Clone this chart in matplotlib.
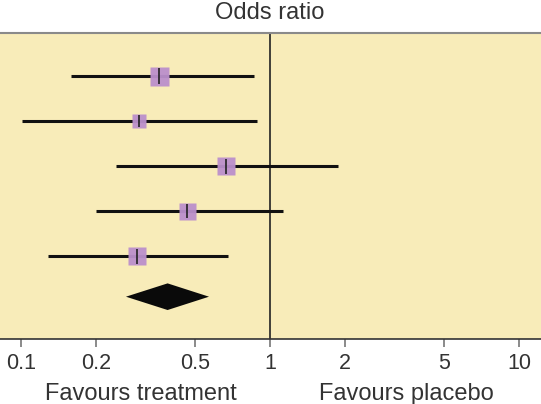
import numpy as np
import matplotlib
matplotlib.use('Agg')
import matplotlib.pyplot as plt

# study estimates (odds ratios), top to bottom
odds = [0.360, 0.299, 0.664, 0.463, 0.292]
ci_low = [0.159, 0.101, 0.240, 0.200, 0.129]
ci_high = [0.862, 0.884, 1.88, 1.13, 0.676]
box_px = [19, 14, 18, 17, 18]  # box size ~ study weight

# pooled estimate
pooled = 0.388
pooled_low = 0.264
pooled_high = 0.569

tick_vals = [0.1, 0.2, 0.5, 1, 2, 5, 10]
tick_labels = ['0.1', '0.2', '0.5', '1', '2', '5', '10']

plt.rcParams['font.family'] = ['Liberation Sans', 'DejaVu Sans']

fig = plt.figure(figsize=(5.41, 4.04), dpi=100)
ax = fig.add_axes([0.0, 0.1609, 1.0, 0.7574])
ax.set_facecolor('#f8ecb9')

ys = np.arange(len(odds))
for i in range(len(odds)):
    ax.plot([ci_low[i], ci_high[i]], [ys[i], ys[i]], color='#111111', lw=2.2,
            solid_capstyle='butt', zorder=3)
    ax.plot(odds[i], ys[i], marker='s', ms=box_px[i] * 0.72, color='#bb8fcc',
            mec='none', alpha=0.95, zorder=4)
    ax.plot(odds[i], ys[i], marker='|', ms=box_px[i] * 0.6, color='#222222',
            mew=1.2, zorder=5)

# pooled diamond
yd = 4.91
h = 0.296
ax.fill([pooled_low, pooled, pooled_high, pooled], [yd, yd - h, yd, yd + h],
        color='#0a0a0a', zorder=4, lw=0)

ax.axvline(1, color='#222222', lw=1.2, zorder=2)

ax.set_xscale('log')
ax.set_xlim(0.0824, 12.25)
ax.set_ylim(5.85, -0.95)
ax.set_xticks(tick_vals)
ax.set_xticklabels(tick_labels)
ax.minorticks_off()
ax.set_yticks([])
ax.tick_params(axis='x', direction='out', length=6, width=1.2, color='#777777',
               labelsize=15.5, labelcolor='#333333', pad=4)

for s in ['left', 'right']:
    ax.spines[s].set_visible(False)
ax.spines['top'].set_color('#8a8a8a')
ax.spines['top'].set_linewidth(1.5)
ax.spines['bottom'].set_color('#333333')
ax.spines['bottom'].set_linewidth(1.2)

fig.text(270 / 541, 1 - 19 / 404, 'Odds ratio', ha='center', va='baseline',
         fontsize=17, color='#333333')
fig.text(141 / 541, 1 - 400 / 404, 'Favours treatment', ha='center', va='baseline',
         fontsize=17, color='#333333')
fig.text(406 / 541, 1 - 400 / 404, 'Favours placebo', ha='center', va='baseline',
         fontsize=17, color='#333333')

fig.savefig('out.png', dpi=100, facecolor='white')
